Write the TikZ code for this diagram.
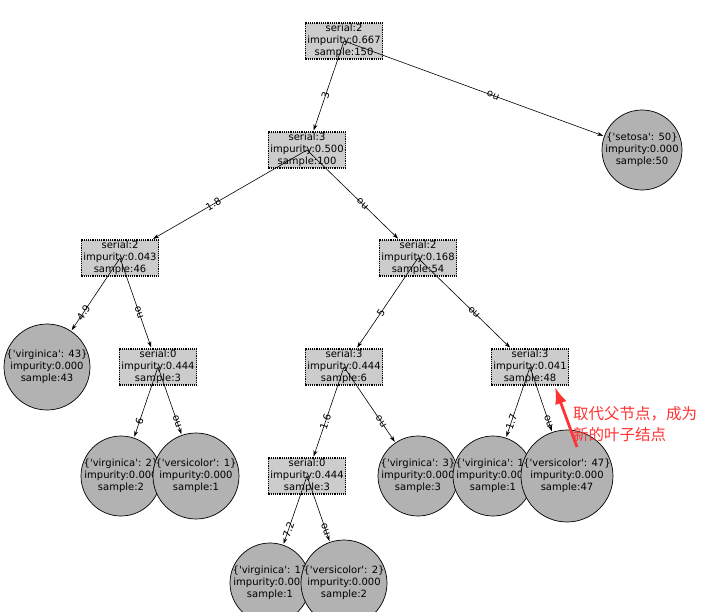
\documentclass[tikz,border=0pt]{standalone}
\usepackage{fontspec}
\setmainfont{DejaVu Sans}[Ligatures=TeXOff]
\newfontfamily\cjk{Noto Sans CJK SC}
\usetikzlibrary{arrows.meta}
\definecolor{boxgray}{gray}{0.8}
\definecolor{leafgray}{gray}{0.7}
\definecolor{annred}{HTML}{FF3333}
\newcommand\sq{'}
\tikzset{
  decbox/.style={draw=black, densely dotted, line width=1.2pt, fill=boxgray,
    inner xsep=2pt, inner ysep=1.2pt, align=center,
    font=\fontsize{10}{12}\selectfont},
  leafdisc/.style={draw=black, line width=0.7pt, fill=leafgray, circle, inner sep=0pt},
  leaftext/.style={align=center, inner sep=0pt, font=\fontsize{10}{12}\selectfont},
  edge/.style={-{Stealth[length=6pt,width=4pt]}, line width=0.6pt, shorten >=1pt},
  elabel/.style={midway, sloped, allow upside down, inner sep=0pt, font=\fontsize{10}{12}\selectfont}
}
\newcommand\myleaf[5]{%
  \node[leafdisc, minimum size=#4pt] (#1) at (#2,#3) {};
  \node[leaftext] at (#1) {#5};}
\newcommand\myedge[3]{%
  \draw[edge] (#1.center) -- (#2);
  \path (#2.center) -- (#1.center) node[elabel] {#3};}
\begin{document}
\begin{tikzpicture}[x=1pt,y=-1pt]
\useasboundingbox (0,0) rectangle (715,611);
% decision nodes
\node[decbox] (r) at (344,41) {serial:2\\impurity:0.667\\sample:150};
\node[decbox] (a) at (307,150) {serial:3\\impurity:0.500\\sample:100};
\myleaf{set}{642}{150}{80}{\{\sq setosa\sq: 50\}\\impurity:0.000\\sample:50}
\node[decbox] (b) at (120,258) {serial:2\\impurity:0.043\\sample:46};
\node[decbox] (c) at (418,258) {serial:2\\impurity:0.168\\sample:54};
\myleaf{vA}{47}{367}{86}{\{\sq virginica\sq: 43\}\\impurity:0.000\\sample:43}
\node[decbox] (d) at (158,367) {serial:0\\impurity:0.444\\sample:3};
\node[decbox] (e) at (344,367) {serial:3\\impurity:0.444\\sample:6};
\node[decbox] (f) at (530,367) {serial:3\\impurity:0.041\\sample:48};
\myleaf{vB}{121}{476}{80}{\{\sq virginica\sq: 2\}\\impurity:0.000\\sample:2}
\myleaf{wA}{196}{476}{86}{\{\sq versicolor\sq: 1\}\\impurity:0.000\\sample:1}
\node[decbox] (g) at (307,476) {serial:0\\impurity:0.444\\sample:3};
\myleaf{vC}{418}{476}{80}{\{\sq virginica\sq: 3\}\\impurity:0.000\\sample:3}
\myleaf{vD}{493}{476}{80}{\{\sq virginica\sq: 1\}\\impurity:0.000\\sample:1}
\myleaf{wB}{567}{476}{92}{\{\sq versicolor\sq: 47\}\\impurity:0.000\\sample:47}
\myleaf{vE}{270}{583}{80}{\{\sq virginica\sq: 1\}\\impurity:0.000\\sample:1}
\myleaf{wC}{344}{583}{86}{\{\sq versicolor\sq: 2\}\\impurity:0.000\\sample:2}
% edges
\myedge{r}{a}{3}
\myedge{r}{set}{no}
\myedge{a}{b}{1.8}
\myedge{a}{c}{no}
\myedge{b}{vA}{4.9}
\myedge{b}{d}{no}
\myedge{c}{e}{5}
\myedge{c}{f}{no}
\myedge{d}{vB}{6}
\myedge{d}{wA}{no}
\myedge{e}{g}{1.6}
\myedge{e}{vC}{no}
\myedge{f}{vD}{1.7}
\myedge{f}{wB}{no}
\myedge{g}{vE}{7.2}
\myedge{g}{wC}{no}
% annotation
\coordinate (tail) at (577,447);
\coordinate (tip) at (555,387);
\draw[annred, line width=2.8pt, -{Latex[length=17pt,width=12pt]}] (tail) -- (tip);
\node[anchor=west, align=left, inner sep=0pt, text=annred,
  font=\cjk\fontsize{15.5}{20.5}\selectfont] (note) at (573,424)
  {取代父节点，成为\\新的叶子结点};
\end{tikzpicture}
\end{document}
